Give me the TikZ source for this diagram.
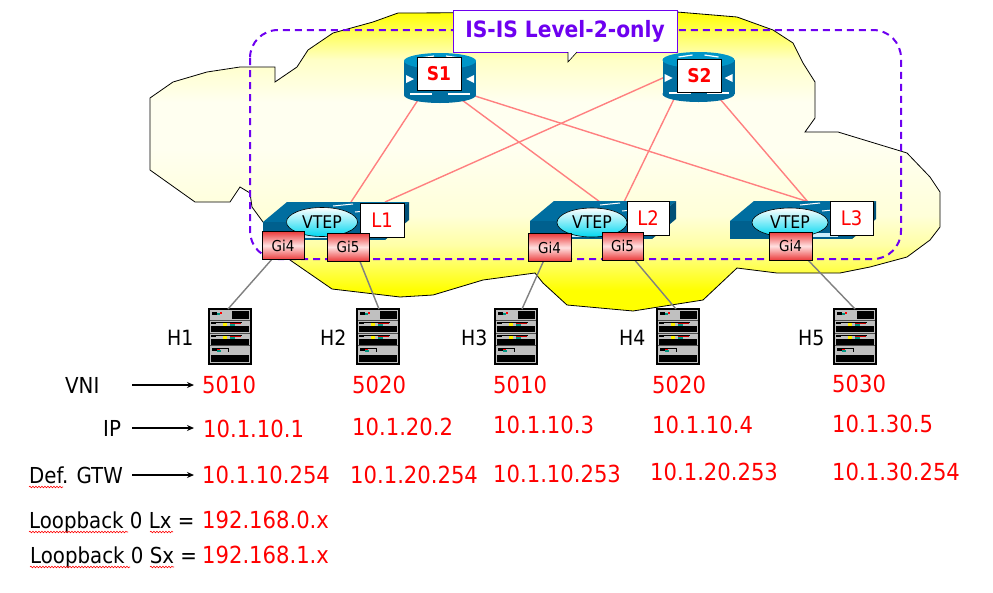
\documentclass[tikz,border=0pt]{standalone}
\usepackage{fontspec}
\setmainfont{DejaVu Sans Condensed}
\usetikzlibrary{arrows.meta,decorations.pathmorphing,shapes.geometric}
\definecolor{cisco}{RGB}{0,110,160}
\definecolor{ciscofront}{RGB}{0,96,142}
\definecolor{ciscoside}{RGB}{0,80,120}
\definecolor{ciscotop}{RGB}{0,150,200}
\definecolor{linkred}{RGB}{255,128,128}
\definecolor{isis}{RGB}{110,0,240}
\definecolor{srvgray}{RGB}{192,192,192}
\definecolor{gired}{RGB}{235,60,60}
\definecolor{vtepc}{RGB}{0,215,240}
\definecolor{srvteal}{RGB}{0,150,130}
\pgfdeclareverticalshading{cloudshade}{100bp}{%
  color(0bp)=(yellow); color(25bp)=(yellow); color(28.5bp)=(yellow);
  color(32bp)=(yellow!70); color(36bp)=(yellow!35); color(41bp)=(yellow!15);
  color(52bp)=(yellow!6); color(60bp)=(yellow!6); color(67bp)=(yellow!22);
  color(71bp)=(yellow!60); color(75bp)=(yellow); color(100bp)=(yellow)}
\begin{document}
\begin{tikzpicture}[x=1pt,y=-1pt,
  redlink/.style={linkred, line width=1.4pt},
  graylink/.style={gray, line width=1.4pt},
  arr/.style={line width=1.3pt, -{Stealth[length=7pt,width=6pt]}},
  num/.style={anchor=base west, inner sep=0pt, text=red, font=\fontsize{23.5}{27}\selectfont},
  lab/.style={anchor=base west, inner sep=0pt, font=\fontsize{22}{26}\selectfont},
  hostlab/.style={anchor=base west, inner sep=0pt, font=\fontsize{21}{25}\selectfont},
  lbox/.style={draw, fill=white, line width=0.8pt, inner sep=0pt, minimum width=43pt, minimum height=34pt, text=red, font=\fontsize{20}{24}\selectfont},
  sbox/.style={draw, fill=white, line width=0.8pt, inner sep=0pt, minimum width=44pt, minimum height=33pt, text=red, font=\fontsize{19}{23}\selectfont\bfseries},
  vtep/.style={ellipse, draw, line width=0.6pt, top color=white, bottom color=vtepc, inner sep=0pt, minimum width=71pt, minimum height=29pt, font=\fontsize{17.5}{20}\selectfont},
  gibox/.style={draw, line width=0.8pt, top color=gired, bottom color=gired, middle color=white!88!red, inner sep=0pt, minimum width=42pt, minimum height=28pt, font=\fontsize{15}{18}\selectfont},
  wavy/.style={red, line width=0.6pt, decorate, decoration={snake, amplitude=0.8pt, segment length=3pt}},
  spine/.pic={
    \fill[cisco] (0,34) ellipse (36 and 8);
    \fill[cisco] (-36,0) rectangle (36,34);
    \fill[ciscotop] (0,0) ellipse (36 and 8);
    \fill[white] (-34,14) -- (-26,18) -- (-34,22) -- cycle;
    \fill[white] (34,14) -- (26,18) -- (34,22) -- cycle;
    \draw[white, line width=1.2pt] (-30,33) -- (-8,33) (8,33) -- (30,33);
    \draw[white, line width=1.2pt] (-20,-3) -- (-6,-5) (6,-5) -- (20,-3);
  },
  leaf/.pic={
    \fill[cisco] (0,0) -- (24,-20) -- (146,-20) -- (122,0) -- cycle;
    \fill[ciscofront] (0,0) rectangle (122,18);
    \fill[ciscoside] (122,0) -- (146,-20) -- (146,-2) -- (122,18) -- cycle;
    \fill[white!80!cyan] (40,12) rectangle (68,16);
    \fill[white!80!cyan] (76,12) rectangle (108,16);
    \draw[white, line width=1pt] (70,-16) -- (90,-18);
    \draw[white, line width=1pt] (92,-10) -- (112,-12);
  },
  server/.pic={
    \fill[black] (0,0) rectangle (44,57);
    \fill[srvgray] (2,2) rectangle (42,55);
    \draw[black!70, line width=0.8pt] (2,12) -- (42,12) (2,25) -- (42,25) (2,37) -- (42,37);
    \fill[black] (4,4) rectangle (9,7);
    \fill[srvteal] (9,5) rectangle (12,7);
    \fill[red] (12,4) rectangle (14,6);
    \fill[black] (24,3) rectangle (41,11);
    \foreach \dy in {0,13}{
      \fill[black] (3,14+\dy) rectangle (8,16+\dy);
      \fill[yellow] (15,14+\dy) rectangle (19,18+\dy);
      \fill[red!80!black] (22,14+\dy) rectangle (33,16+\dy);
      \fill[srvteal] (22,16+\dy) rectangle (27,18+\dy);
      \fill[black] (3,18+\dy) rectangle (41,24+\dy);
      \draw[black, line width=0.6pt] (3,14+\dy) -- (34,14+\dy);
    }
    \fill[black] (4,40) rectangle (9,43);
    \fill[red] (9,40) rectangle (12,42);
    \fill[srvteal] (9,42) rectangle (13,44);
    \draw[black, line width=0.6pt] (4,40) -- (20,40) -- (20,44);
    \fill[black] (3,47) rectangle (41,54);
  }
]
\useasboundingbox (0,0) rectangle (993,592);
\fill[white] (0,0) rectangle (993,592);

% cloud
\path[shading=cloudshade, draw=black, line width=0.8pt]
 (398,13) -- (677,12) -- (737,17) -- (773,30) -- (793,43) -- (803,63) -- (815,82) -- (815,118)
 -- (805,132) -- (838,132) -- (907,153) -- (930,177) -- (940,192) -- (940,227) -- (930,240)
 -- (907,257) -- (870,267) -- (840,273) -- (777,273) -- (737,268) -- (703,300) -- (633,311)
 -- (567,305) -- (543,283) -- (535,273) -- (483,280) -- (433,295) -- (400,297) -- (332,289)
 -- (290,260) -- (263,222) -- (252,207) -- (250,193) -- (240,187) -- (230,202) -- (195,202)
 -- (150,170) -- (150,98) -- (173,82) -- (207,72) -- (240,67) -- (275,67) -- (275,82)
 -- (297,67) -- (308,50) -- (333,33) -- (373,22) -- cycle;

% IS-IS area
\draw[isis, line width=2pt, dash pattern=on 7pt off 5pt, rounded corners=28pt] (250,30) rectangle (901,259);

% title callout
\node[draw=isis, fill=white, line width=0.8pt, inner sep=0pt, minimum width=224pt, minimum height=42pt,
      text=isis, font=\fontsize{22.5}{27}\selectfont\bfseries] (title) at (565,31) {IS-IS Level-2-only};
\fill[white] (568,52) -- (568,62) -- (577,52) -- cycle;
\draw[black, line width=0.6pt] (568,52) -- (568,62) -- (577,52);

% attachment points
\coordinate (s1a) at (418,100);
\coordinate (s1b) at (462,100);
\coordinate (s1c) at (475,96);
\coordinate (s2a) at (665,77);
\coordinate (s2b) at (674,99);
\coordinate (s2c) at (720,99);
\coordinate (l1a) at (351,202);
\coordinate (l1b) at (385,202);
\coordinate (l2a) at (600,202);
\coordinate (l2b) at (624,202);
\coordinate (l3a) at (809,202);
\coordinate (l3b) at (808,202);

% spine-leaf links
\draw[redlink] (s1a) -- (l1a);
\draw[redlink] (s1b) -- (l2a);
\draw[redlink] (s1c) -- (l3a);
\draw[redlink] (s2a) -- (l1b);
\draw[redlink] (s2b) -- (l2b);
\draw[redlink] (s2c) -- (l3b);

% spines
\pic at (440,61) {spine};
\pic at (698.5,60) {spine};
\node[sbox] (S1) at (439,73.5) {S1};
\node[sbox] (S2) at (699.5,75.5) {S2};

% leaves
\pic at (263,222) {leaf};
\pic at (530,221) {leaf};
\pic at (730,221) {leaf};
\node[vtep] (v1) at (322,222) {VTEP};
\node[vtep, minimum width=70pt] (v2) at (592,222.5) {VTEP};
\node[vtep, minimum width=76pt] (v3) at (790,222.5) {VTEP};
\node[lbox, minimum width=44pt] (L1) at (382,220) {L1};
\node[lbox, minimum width=42pt] (L2) at (648,218) {L2};
\node[lbox] (L3) at (851.5,218) {L3};

% servers
\pic at (208,308) {server};
\pic at (356,308) {server};
\pic at (494,308) {server};
\pic at (656,308) {server};
\pic at (833,308) {server};
\coordinate (h1t) at (228,309);
\coordinate (h2t) at (379,309);
\coordinate (h3t) at (522,309);
\coordinate (h4t) at (676,309);
\coordinate (h5t) at (855,309);

% host links
\coordinate (g1p) at (273,258);
\coordinate (g2p) at (359,259);
\coordinate (g3p) at (544,260);
\coordinate (g4p) at (633,258);
\coordinate (g5p) at (806,258);
\draw[graylink] (g1p) -- (h1t);
\draw[graylink] (g2p) -- (h2t);
\draw[graylink] (g3p) -- (h3t);
\draw[graylink] (g4p) -- (h4t);
\draw[graylink] (g5p) -- (h5t);

% interface boxes
\node[gibox] (g14) at (283,245.5) {Gi4};
\node[gibox] (g15) at (348,247) {Gi5};
\node[gibox, minimum width=43pt] (g24) at (549.5,247.5) {Gi4};
\node[gibox, minimum width=41pt] (g25) at (622.5,246) {Gi5};
\node[gibox, minimum width=43pt] (g34) at (790.5,246) {Gi4};

% host labels
\node[hostlab] (H1) at (167,345) {H1};
\node[hostlab] (H2) at (320,345) {H2};
\node[hostlab] (H3) at (461,345) {H3};
\node[hostlab] (H4) at (619,345) {H4};
\node[hostlab] (H5) at (798,345) {H5};

% row labels and arrows
\node[lab] (vni) at (65,393) {VNI};
\node[lab] (ip) at (103,436) {IP};
\node[lab] (gtw) at (29,483) {Def. GTW};
\coordinate (a1s) at (132,385); \coordinate (a1e) at (194,385);
\coordinate (a2s) at (132,428); \coordinate (a2e) at (194,428);
\coordinate (a3s) at (132,475); \coordinate (a3e) at (194,475);
\draw[arr] (a1s) -- (a1e);
\draw[arr] (a2s) -- (a2e);
\draw[arr] (a3s) -- (a3e);

% values
\node[num] (n11) at (202,393) {5010};
\node[num] (n12) at (352,393) {5020};
\node[num] (n13) at (493,393) {5010};
\node[num] (n14) at (652,393) {5020};
\node[num] (n15) at (832,392) {5030};
\node[num] (n21) at (203,437) {10.1.10.1};
\node[num] (n22) at (352,435) {10.1.20.2};
\node[num] (n23) at (493,433) {10.1.10.3};
\node[num] (n24) at (652,433) {10.1.10.4};
\node[num] (n25) at (832,432) {10.1.30.5};
\node[num] (n31) at (202,483) {10.1.10.254};
\node[num] (n32) at (350,483) {10.1.20.254};
\node[num] (n33) at (493,482) {10.1.10.253};
\node[num] (n34) at (650,480) {10.1.20.253};
\node[num] (n35) at (832,480) {10.1.30.254};

% loopbacks
\node[lab] (lb1) at (29,528) {Loopback 0 Lx =};
\node[num] (lb1v) at (202,528) {192.168.0.x};
\node[lab] (lb2) at (30,563) {Loopback 0 Sx =};
\node[num] (lb2v) at (202,563) {192.168.1.x};

% spell-check underlines
\draw[wavy] (29,487) -- (63,487);
\draw[wavy] (29,532) -- (128,532);
\draw[wavy] (150,532) -- (173,532);
\draw[wavy] (30,567) -- (130,567);
\draw[wavy] (150,567) -- (174,567);
\end{tikzpicture}
\end{document}
